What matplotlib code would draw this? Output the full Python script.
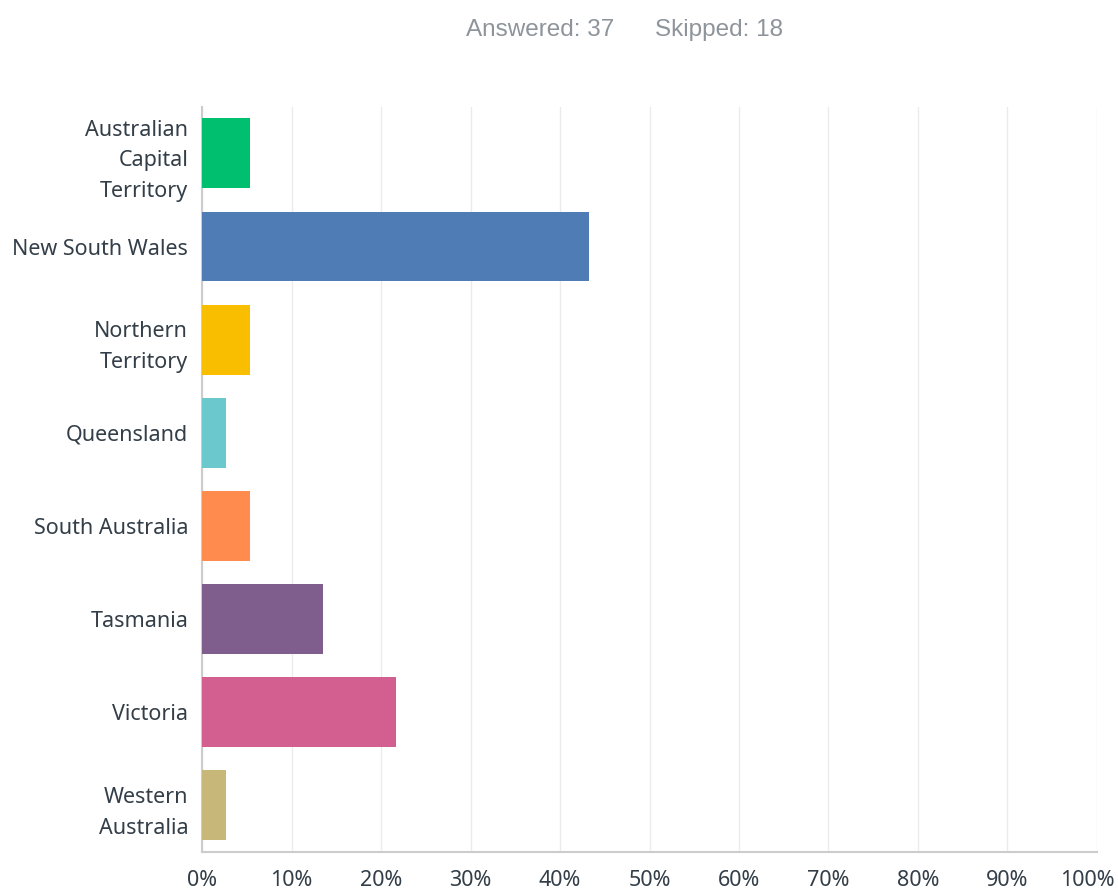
import matplotlib.pyplot as plt
import matplotlib.transforms as mtransforms
from matplotlib.ticker import FuncFormatter

plt.rcParams['font.family'] = ['Noto Sans', 'DejaVu Sans']

# survey responses by state / territory (share of answered, %)
states = ['Australian\nCapital\nTerritory', 'New South Wales', 'Northern\nTerritory',
          'Queensland', 'South Australia', 'Tasmania', 'Victoria', 'Western\nAustralia']
counts = [2, 16, 2, 1, 2, 5, 8, 1]
answered = 37
skipped = 18
share = [100.0 * c / answered for c in counts]
colors = ['#00bf6f', '#507cb6', '#f9be00', '#6bc8cd', '#ff8b4f', '#7f5e8e', '#d25f90', '#c7b879']

fig = plt.figure(figsize=(11.18, 8.90), dpi=100)
ax = fig.add_axes([0.1807, 0.0427, 0.8005, 0.8373])

ypos = list(range(len(states)))
ax.barh(ypos, share, height=0.75, color=colors, zorder=3)
ax.set_ylim(len(states) - 0.5, -0.5)
ax.set_xlim(0, 100)
ax.set_yticks(ypos)
ax.set_yticklabels(states, fontsize=15.5, color='#333e48', linespacing=1.6)
ax.set_xticks(range(0, 101, 10))
ax.xaxis.set_major_formatter(FuncFormatter(lambda v, p: f'{v:.0f}%'))
ax.tick_params(axis='x', labelsize=15.5, labelcolor='#333e48', length=0, pad=13)
ax.tick_params(axis='y', length=0, pad=10)

# keep the 100% label inside the figure
last = ax.get_xticklabels()[-1]
last.set_transform(last.get_transform() + mtransforms.ScaledTranslation(-0.1, 0, fig.dpi_scale_trans))

ax.grid(axis='x', color='#ebebeb', linewidth=1.0, zorder=0)
for side in ('top', 'right'):
    ax.spines[side].set_visible(False)
for side in ('left', 'bottom'):
    ax.spines[side].set_color('#cccccc')
    ax.spines[side].set_linewidth(1.5)

fig.text(0.4165, 0.966, f'Answered: {answered}', fontsize=17.5, color='#8d949b',
         family='Liberation Sans', ha='left', va='center')
fig.text(0.5855, 0.966, f'Skipped: {skipped}', fontsize=17.5, color='#8d949b',
         family='Liberation Sans', ha='left', va='center')

fig.savefig('out.png', dpi=100, facecolor='white')
